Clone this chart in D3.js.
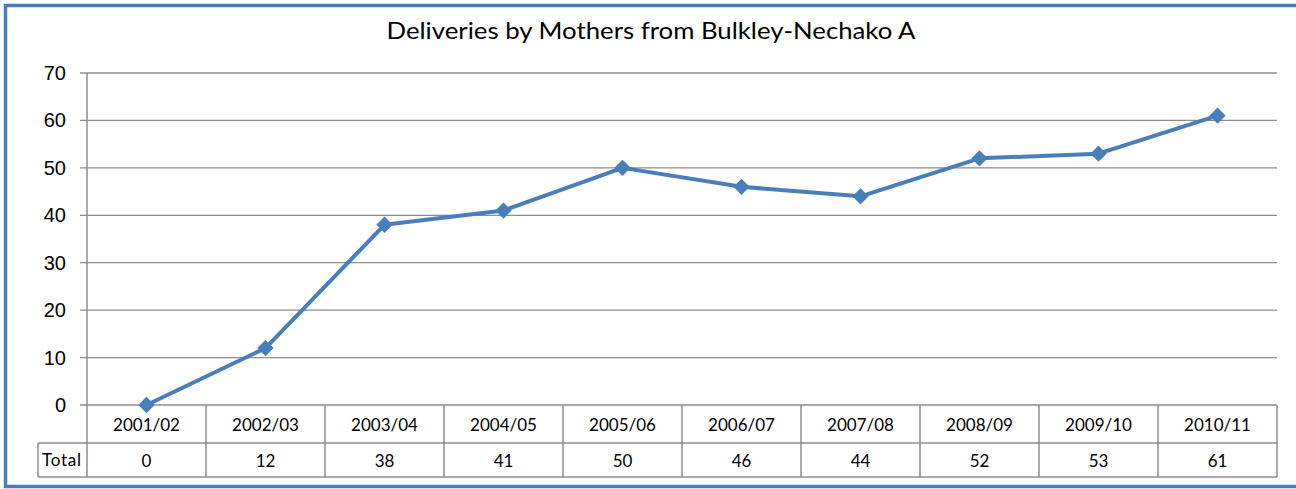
<!DOCTYPE html>
<html>
<head>
<meta charset="utf-8">
<script src="https://cdn.jsdelivr.net/npm/d3@7"></script>
<style>
  body { margin: 0; background: #fff; }
  svg { display: block; }
</style>
</head>
<body>
<div id="chart"></div>
<script>
var years = ["2001/02", "2002/03", "2003/04", "2004/05", "2005/06", "2006/07", "2007/08", "2008/09", "2009/10", "2010/11"];
var totals = [0, 12, 38, 41, 50, 46, 44, 52, 53, 61];
var yTicks = [0, 10, 20, 30, 40, 50, 60, 70];

var w = 1296, h = 489;
var plotL = 87, plotR = 1277, plotT = 73, plotB = 405;
var row1 = 443, row2 = 477;
var blue = "#4a7ebb", grey = "#8c8c8c";

var svg = d3.select("#chart").append("svg")
    .attr("width", w)
    .attr("height", h);

// chart border (right edge falls outside the picture)
svg.append("rect")
    .attr("x", 5.5).attr("y", 5.5)
    .attr("width", w + 10).attr("height", 481)
    .attr("fill", "none")
    .attr("stroke", blue)
    .attr("stroke-width", 3.5);

svg.append("text")
    .attr("x", 651).attr("y", 39)
    .attr("text-anchor", "middle")
    .attr("font-family", "Lato, sans-serif")
    .attr("font-size", 24)
    .attr("textLength", 529)
    .attr("lengthAdjust", "spacingAndGlyphs")
    .text("Deliveries by Mothers from Bulkley-Nechako A");

var x = d3.scaleBand().domain(years).range([plotL, plotR]);
var y = d3.scaleLinear().domain([0, 70]).range([plotB, plotT]);

// gridlines + y labels
svg.append("g").selectAll("line")
    .data(yTicks)
    .enter()
    .append("line")
    .attr("x1", plotL - 7).attr("x2", plotR)
    .attr("y1", function(d) { return y(d); })
    .attr("y2", function(d) { return y(d); })
    .attr("stroke", grey)
    .attr("stroke-width", 1.3);

svg.append("g").selectAll("text")
    .data(yTicks)
    .enter()
    .append("text")
    .attr("x", 66)
    .attr("y", function(d) { return y(d) + 7; })
    .attr("text-anchor", "end")
    .attr("font-family", "Liberation Sans, Arial, sans-serif")
    .attr("font-size", 20)
    .text(function(d) { return d; });

// data table
var tbl = svg.append("g").attr("stroke", grey).attr("stroke-width", 1.5).attr("fill", "none");
tbl.append("line").attr("x1", plotL).attr("x2", plotL).attr("y1", plotT).attr("y2", row2);
tbl.append("line").attr("x1", plotL).attr("x2", plotR).attr("y1", row1).attr("y2", row1);
tbl.append("line").attr("x1", 38).attr("x2", plotR).attr("y1", row2).attr("y2", row2);
tbl.append("line").attr("x1", 38).attr("x2", plotL).attr("y1", row1).attr("y2", row1);
tbl.append("line").attr("x1", 38).attr("x2", 38).attr("y1", row1).attr("y2", row2);
tbl.selectAll(".col")
    .data(years)
    .enter()
    .append("line")
    .attr("x1", function(d) { return x(d) + x.bandwidth(); })
    .attr("x2", function(d) { return x(d) + x.bandwidth(); })
    .attr("y1", plotB).attr("y2", row2);

var tf = "Lato, Carlito, Calibri, sans-serif";
svg.append("g").selectAll("text")
    .data(years)
    .enter()
    .append("text")
    .attr("x", function(d) { return x(d) + x.bandwidth() / 2; })
    .attr("y", 431)
    .attr("text-anchor", "middle")
    .attr("font-family", tf)
    .attr("font-size", 17)
    .text(function(d) { return d; });

svg.append("g").selectAll("text")
    .data(totals)
    .enter()
    .append("text")
    .attr("x", function(d, i) { return x(years[i]) + x.bandwidth() / 2; })
    .attr("y", 467)
    .attr("text-anchor", "middle")
    .attr("font-family", tf)
    .attr("font-size", 17)
    .text(function(d) { return d; });

svg.append("text")
    .attr("x", 42).attr("y", 466)
    .attr("font-family", tf)
    .attr("font-size", 17)
    .attr("textLength", 39)
    .text("Total");

// line + markers
var line = d3.line()
    .x(function(d, i) { return x(years[i]) + x.bandwidth() / 2; })
    .y(function(d) { return y(d); });

svg.append("path")
    .datum(totals)
    .attr("d", line)
    .attr("fill", "none")
    .attr("stroke", blue)
    .attr("stroke-width", 4)
    .attr("stroke-linejoin", "round");

svg.append("g").selectAll("path")
    .data(totals)
    .enter()
    .append("path")
    .attr("d", d3.symbol().type(d3.symbolDiamond2).size(170))
    .attr("transform", function(d, i) {
        return "translate(" + (x(years[i]) + x.bandwidth() / 2) + "," + y(d) + ")";
    })
    .attr("fill", blue);
</script>
</body>
</html>
